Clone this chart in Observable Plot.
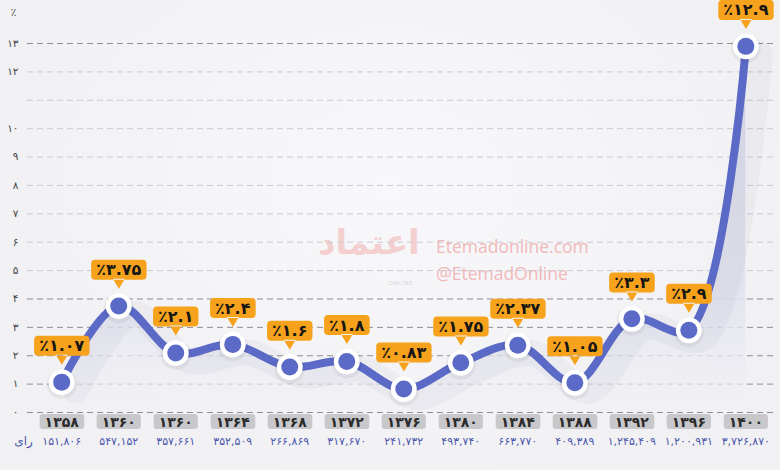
<!DOCTYPE html>
<html><head><meta charset="utf-8">
<script src="https://cdn.jsdelivr.net/npm/d3@7"></script>
<script src="https://cdn.jsdelivr.net/npm/@observablehq/plot@0.6"></script>
<style>
html,body{margin:0;padding:0;background:#f3f3f5;}
#wrap{position:relative;width:780px;height:470px;overflow:hidden;font-family:"DejaVu Sans",sans-serif;
  background:radial-gradient(ellipse at 50% 40%, #f8f8fa 0%, #f1f1f4 75%);}
#wrap svg{position:absolute;left:0;top:0;}
.wm{position:absolute;font-family:"Open Sans",sans-serif;font-size:17.5px;color:#f1b8b8;white-space:nowrap;}
.logo{position:absolute;font-family:"DejaVu Sans",sans-serif;font-weight:bold;color:#f4cfcf;font-size:34px;}
.logo2{position:absolute;font-family:"Open Sans",sans-serif;color:#d2d2d6;font-size:6px;letter-spacing:0.5px;}
</style></head><body><div id="wrap">
<div class="logo" style="left:318px;top:222px;">اعتماد</div>
<div class="logo2" style="left:388px;top:279px;">ONLINE</div>
<div class="wm" style="left:436px;top:234px;">Etemadonline.com</div>
<div class="wm" style="left:436px;top:261px;">@EtemadOnline</div>
</div>
<script>
// ---- data ----
const years = ["۱۳۵۸","۱۳۶۰","۱۳۶۰","۱۳۶۴","۱۳۶۸","۱۳۷۲","۱۳۷۶","۱۳۸۰","۱۳۸۴","۱۳۸۸","۱۳۹۲","۱۳۹۶","۱۴۰۰"];
const values = [1.07, 3.75, 2.1, 2.4, 1.6, 1.8, 0.83, 1.75, 2.37, 1.05, 3.3, 2.9, 12.9];
const valueLabels = ["٪۱.۰۷","٪۳.۷۵","٪۲.۱","٪۲.۴","٪۱.۶","٪۱.۸","٪۰.۸۳","٪۱.۷۵","٪۲.۳۷","٪۱.۰۵","٪۳.۳","٪۲.۹","٪۱۲.۹"];
const votes = ["۱۵۱,۸۰۶","۵۴۷,۱۵۲","۳۵۷,۶۶۱","۳۵۲,۵۰۹","۲۶۶,۸۶۹","۳۱۷,۶۷۰","۲۴۱,۷۳۲","۴۹۳,۷۴۰","۶۶۳,۷۷۰","۴۰۹,۳۸۹","۱,۲۴۵,۴۰۹","۱,۲۰۰,۹۳۱","۳,۷۲۶,۸۷۰"];
const votesUnit = "رای";
const percentSign = "٪";
const yTicks = [0,1,2,3,4,5,6,7,8,9,10,12,13];
const yTickLabels = ["۰","۱","۲","۳","۴","۵","۶","۷","۸","۹","۱۰","۱۲","۱۳"];
const gridLines = [0,1,2,3,4,5,6,7,8,9,10,11,12,13];
const darkGrid = [0,1,2,3,4,13];

const data = values.map((v, i) => ({i, v, label: valueLabels[i], year: years[i], votes: votes[i]}));
const BLUE = "#5b6ac6";

const chart = Plot.plot({
  width: 780, height: 470,
  marginLeft: 27, marginRight: 5, marginTop: 26, marginBottom: 58,
  style: {background: "transparent", fontFamily: "DejaVu Sans, sans-serif", fontSize: "10.5px", color: "#444"},
  x: {domain: [-0.6, 12.52], axis: null},
  y: {domain: [0, 13.6], ticks: yTicks, tickFormat: d => yTickLabels[yTicks.indexOf(d)], tickSize: 0, tickPadding: 9, label: null},
  marks: [
    Plot.ruleY(gridLines.filter(d => !darkGrid.includes(d)), {stroke: "#cacad0", strokeWidth: 1, strokeDasharray: "6,4"}),
    Plot.ruleY(darkGrid, {stroke: "#8e8e94", strokeWidth: 1, strokeDasharray: "6,4"}),
    Plot.areaY(data, {x: "i", y: "v", curve: "catmull-rom", fill: "url(#areaGrad)"}),
    Plot.line(data, {x: "i", y: "v", curve: "catmull-rom", stroke: "#2a2a60", strokeOpacity: 0.035, strokeWidth: 26, dx: 14, dy: 8}),
    Plot.line(data, {x: "i", y: "v", curve: "catmull-rom", stroke: BLUE, strokeWidth: 8}),
    Plot.dot(data, {x: "i", y: "v", r: 15, fill: "#000", fillOpacity: 0.05, dy: 2}),
    Plot.dot(data, {x: "i", y: "v", r: 13, fill: "#ffffff"}),
    Plot.dot(data, {x: "i", y: "v", r: 8.5, fill: BLUE}),
    Plot.text(data, {x: "i", y: "v", text: "label", dy: -36, fontSize: 16, fontWeight: "bold", fill: "#161616"}),
    Plot.text(data, {x: "i", text: "year", frameAnchor: "bottom", dy: 14, fontSize: 14, fontWeight: "bold", fill: "#2b2b2b"}),
    Plot.text(data, {x: "i", text: "votes", frameAnchor: "bottom", dy: 32, fontSize: 11, fill: "#4b57ad"}),
    Plot.text([votesUnit], {text: d => d, frameAnchor: "bottom-left", dx: -4, dy: 32, textAnchor: "middle", fontSize: 12, fill: "#4b57ad"}),
    Plot.text([percentSign], {text: d => d, frameAnchor: "top-left", dx: -14, dy: -18, textAnchor: "middle", fontSize: 10.5, fill: "#444"})
  ]
});

document.getElementById("wrap").appendChild(chart);
const svg = d3.select(chart);
const defs = svg.insert("defs", ":first-child");
const lg = defs.append("linearGradient").attr("id", "areaGrad").attr("x1", 0).attr("y1", 0).attr("x2", 0).attr("y2", 1);
lg.append("stop").attr("offset", "0%").attr("stop-color", "#d6d7e6").attr("stop-opacity", 0.9);
lg.append("stop").attr("offset", "65%").attr("stop-color", "#e0e1ec").attr("stop-opacity", 0.9);
lg.append("stop").attr("offset", "100%").attr("stop-color", "#f2f2f6").attr("stop-opacity", 0.6);

function rr(x0, y0, x1, y1, r) {
  return `M${x0+r},${y0}H${x1-r}Q${x1},${y0} ${x1},${y0+r}V${y1-r}Q${x1},${y1} ${x1-r},${y1}H${x0+r}Q${x0},${y1} ${x0},${y1-r}V${y0+r}Q${x0},${y0} ${x0+r},${y0}Z`;
}
function addBoxes(groupNode, fill, padX, padY, pointer, radius) {
  d3.select(groupNode).selectAll("text").each(function() {
    const b = this.getBBox();
    const x0 = b.x - padX, x1 = b.x + b.width + padX, y0 = b.y - padY, y1 = b.y + b.height + padY;
    const cx = b.x + b.width / 2;
    let d = rr(x0, y0, x1, y1, radius);
    if (pointer) d += `M${cx-6},${y1-1}L${cx},${y1+9}L${cx+6},${y1-1}Z`;
    const p = document.createElementNS("http://www.w3.org/2000/svg", "path");
    p.setAttribute("d", d);
    p.setAttribute("fill", fill);
    p.setAttribute("stroke", "none");
    const t = this.getAttribute("transform");
    if (t) p.setAttribute("transform", t);
    this.parentNode.insertBefore(p, this);
  });
}
const textGroups = svg.selectAll('g[aria-label="text"]').nodes();
addBoxes(textGroups[0], "#f7a21c", 5, 0.5, true, 4);
addBoxes(textGroups[1], "#c8c8cb", 5, -0.5, false, 3);
</script>
</body></html>
